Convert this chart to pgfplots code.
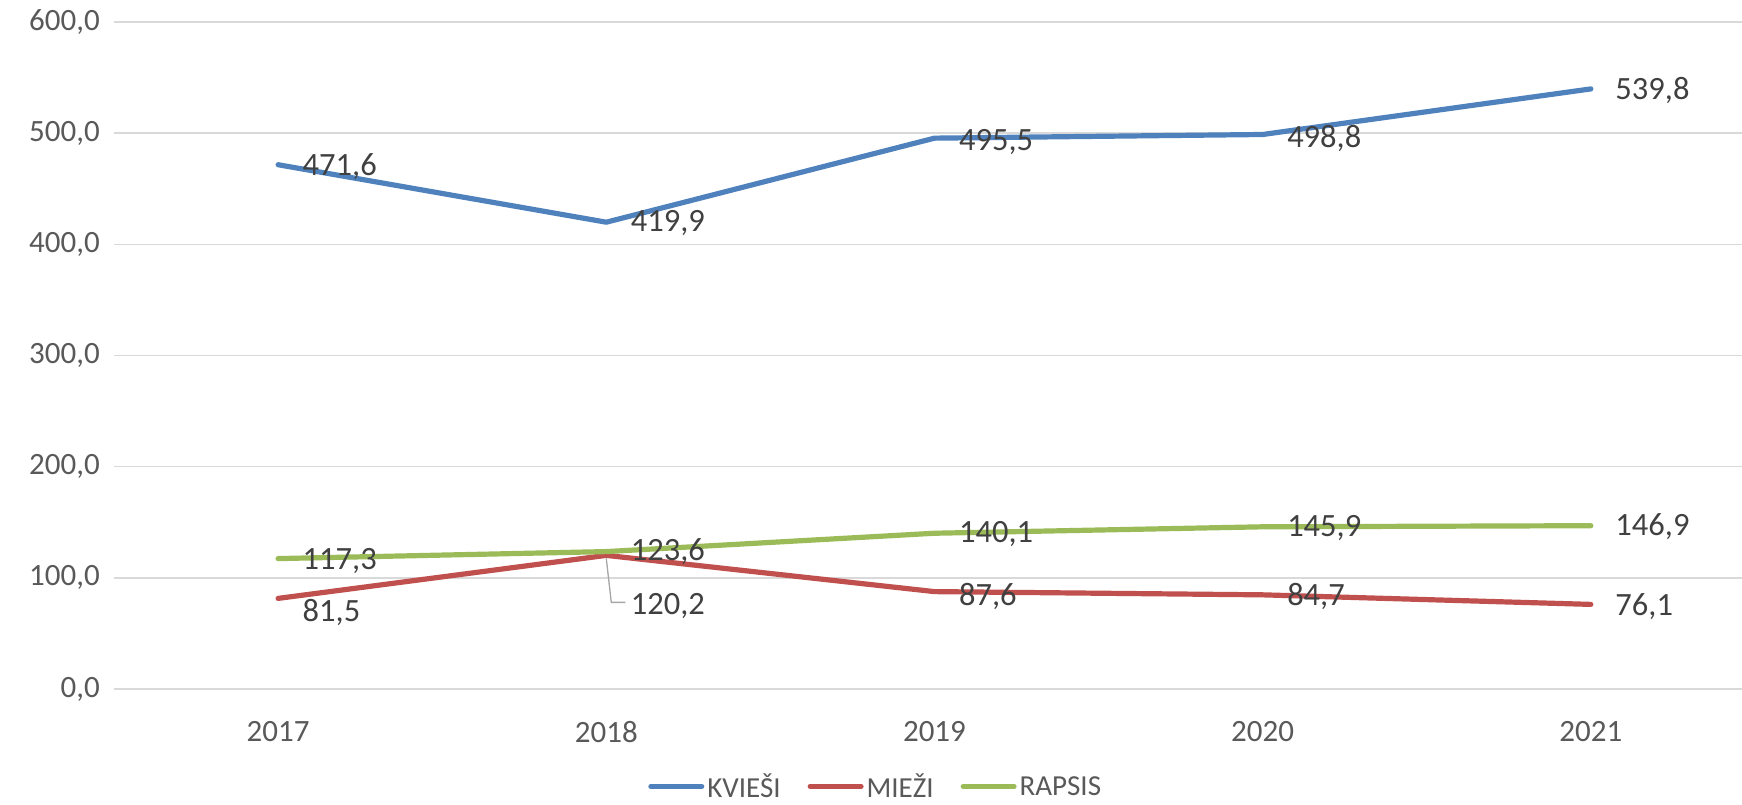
\documentclass[border=0pt]{standalone}
\usepackage{fontspec}
\setmainfont{Carlito}
\usepackage{pgfplots}
\pgfplotsset{compat=1.18}
\usepackage{pgfplotstable}
\definecolor{cblue}{RGB}{79,129,189}
\definecolor{cred}{RGB}{192,80,77}
\definecolor{cgreen}{RGB}{155,187,89}
\definecolor{gridgray}{RGB}{217,217,217}
\definecolor{ticktext}{RGB}{89,89,89}
\definecolor{labeltext}{RGB}{64,64,64}
\definecolor{leader}{RGB}{166,166,166}

\pgfplotstableread{
x y dy
0 471.6 -2
1 419.9 -1
2 495.5 -4
3 498.8 -4
4 539.8 -2
}\kviesi
\pgfplotstableread{
x y dy
0 81.5 -14
1 120.2 -51
2 87.6 -5
3 84.7 -2
4 76.1 -2
}\miezi
\pgfplotstableread{
x y dy
0 117.3 -2
1 123.6 0
2 140.1 -1
3 145.9 -1
4 146.9 -1
}\rapsis

\begin{document}
\begin{tikzpicture}
\path[use as bounding box] (0,0) rectangle (1742pt,805pt);
\begin{axis}[
  at={(114pt,116pt)}, anchor=south west,
  scale only axis, width=1641pt, height=667pt,
  xmin=-0.5, xmax=4.5, ymin=0, ymax=600,
  xtick={0,1,2,3,4}, xticklabels={2017,2018,2019,2020,2021},
  ytick={0,100,200,300,400,500,600},
  ymajorgrids, grid style={draw=gridgray, line width=1.5pt},
  axis line style={draw=none}, major tick length=0pt,
  /pgf/number format/.cd, use comma, fixed, fixed zerofill, precision=1, assume math mode=true, 1000 sep={},
  /pgfplots/.cd,
  yticklabel style={font=\fontsize{31}{37}\selectfont, text=ticktext, inner sep=0pt, anchor=east, xshift=-14pt},
  xticklabel style={font=\fontsize{31}{37}\selectfont, text=ticktext, inner sep=0pt, anchor=north, yshift=-32pt},
  legend style={at={(0.4645,-0.146)}, anchor=center, draw=none, fill=none, legend columns=3,
    font=\fontsize{29}{34}\selectfont, text=ticktext,
    nodes={inner xsep=3pt, inner ysep=0pt},
    /tikz/every even column/.append style={column sep=24pt}},
  legend image code/.code={\draw[#1, line width=5pt, line cap=round] (0pt,0pt) -- (51pt,0pt);},
  nodes near coords,
  visualization depends on={\thisrow{dy} \as \dy},
  every node near coord/.append style={anchor=west, inner sep=0pt, xshift=22pt, yshift=\dy pt,
    font=\fontsize{32.5}{38}\selectfont, text=labeltext},
  every axis plot/.append style={line width=5.2pt, line cap=round, line join=round, no markers},
]
\addplot[cblue] table[x=x, y=y] {\kviesi};
\addlegendentry{KVIEŠI}
\addplot[cred] table[x=x, y=y] {\miezi};
\addlegendentry{MIEŽI}
\addplot[cgreen] table[x=x, y=y] {\rapsis};
\addlegendentry{RAPSIS}
\draw[leader, line width=1.3pt] (axis cs:1,120.2) ++(0pt,-3pt) -- ++(5pt,-44pt) -- ++(14pt,0pt);
\end{axis}
\end{tikzpicture}
\end{document}
